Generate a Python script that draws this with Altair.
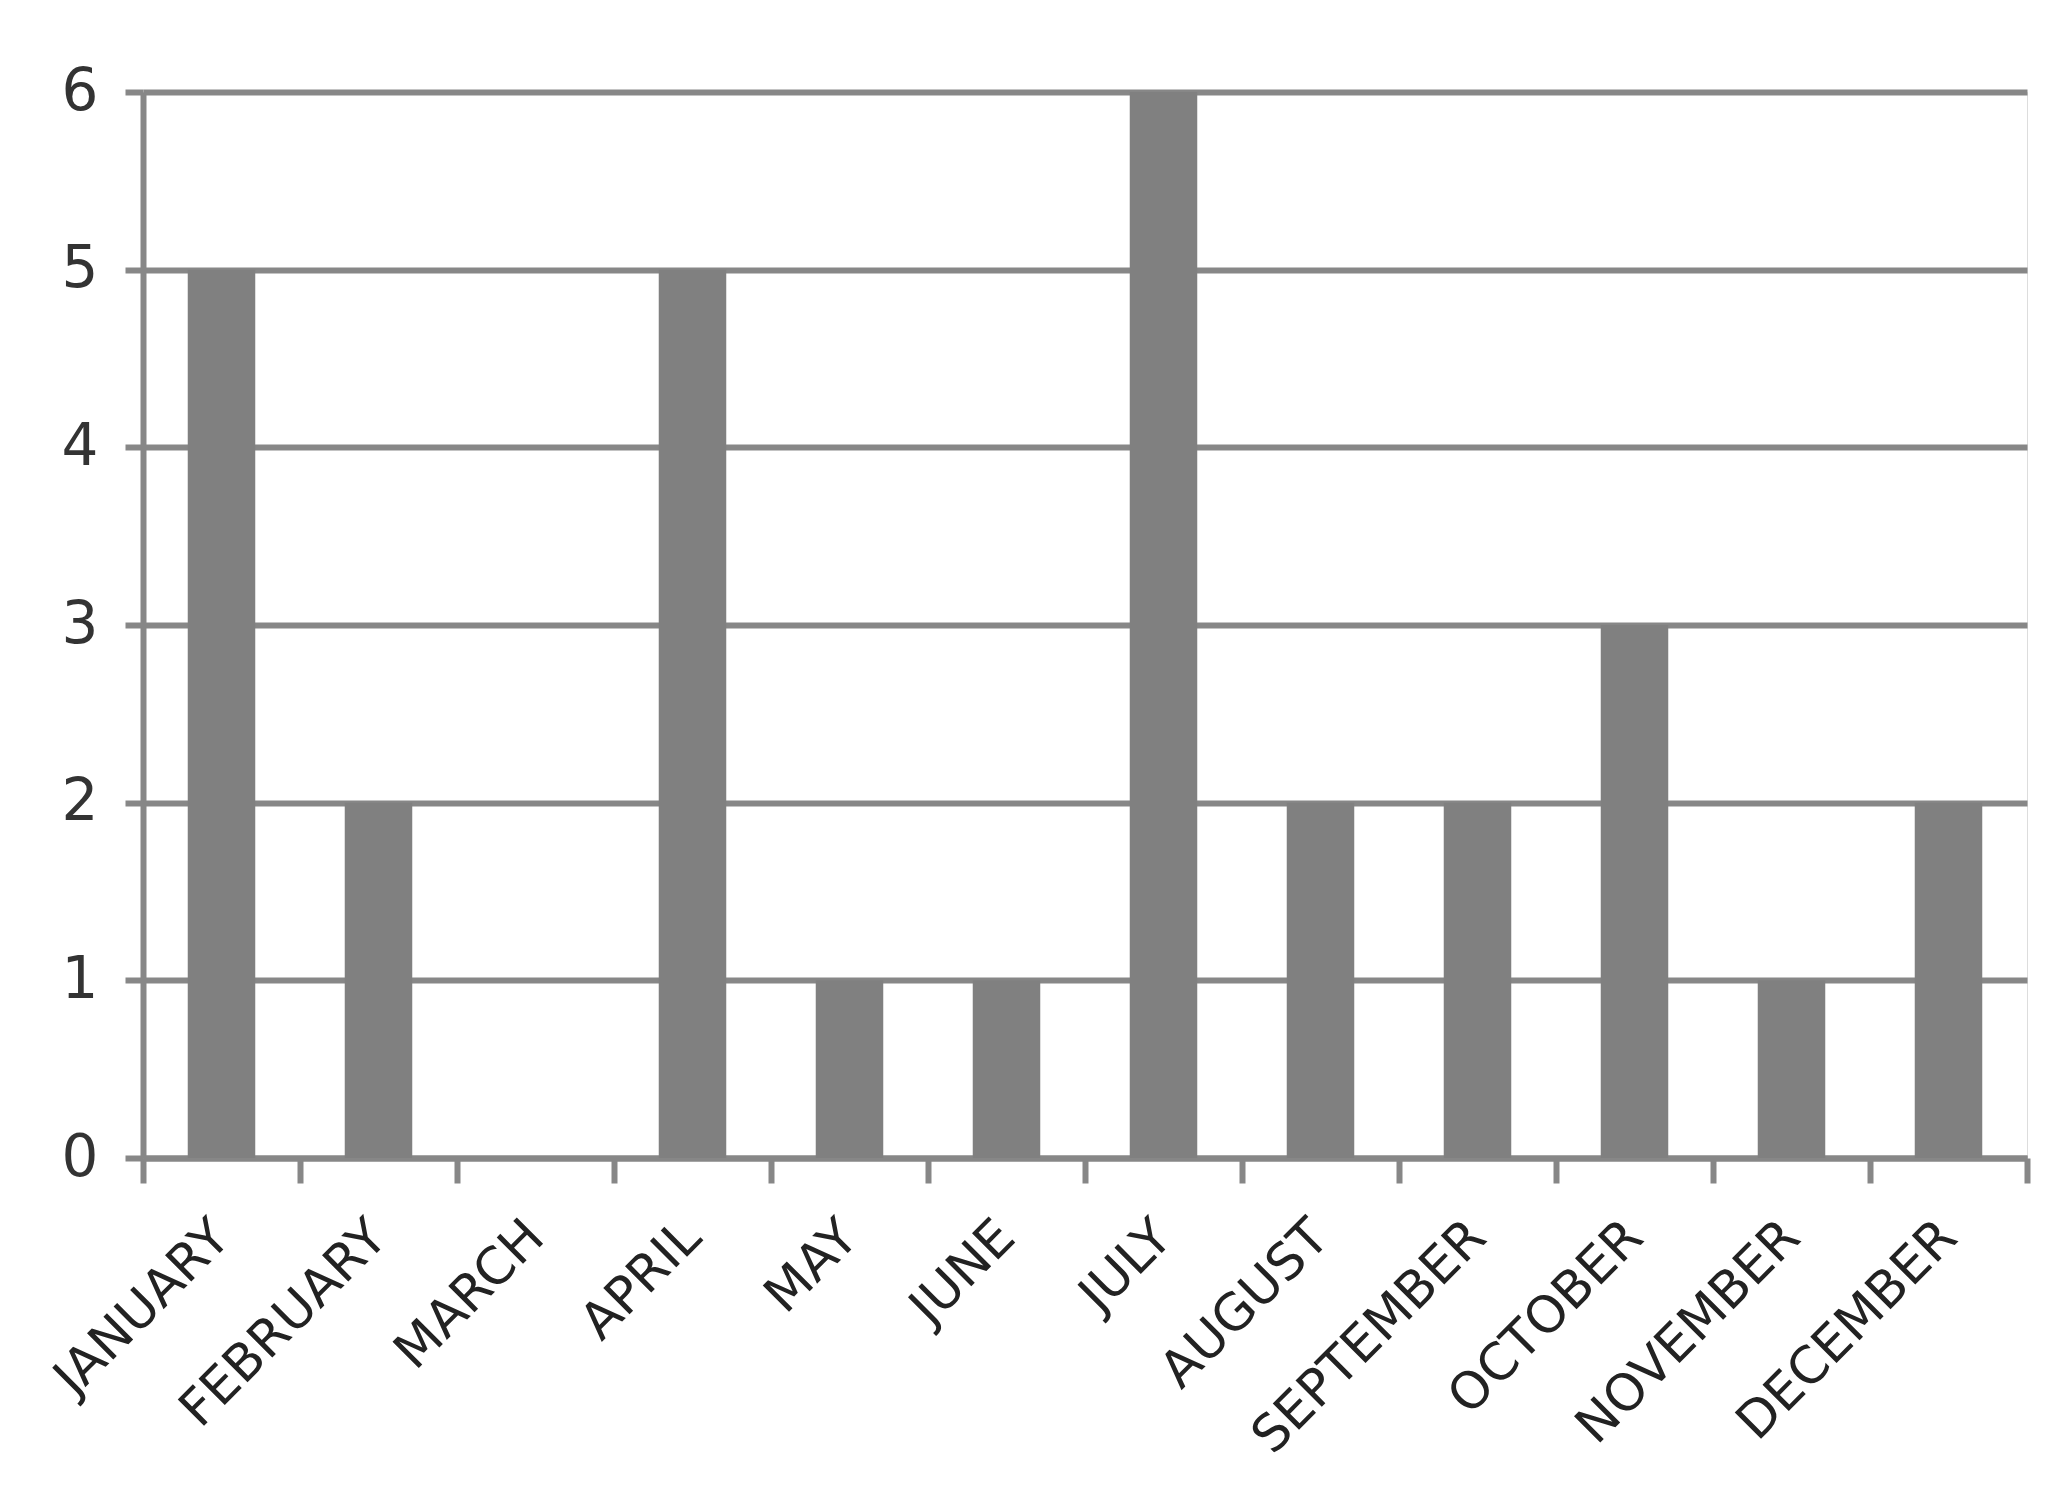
import altair as alt
import pandas as pd

months = ["JANUARY", "FEBRUARY", "MARCH", "APRIL", "MAY", "JUNE", "JULY",
          "AUGUST", "SEPTEMBER", "OCTOBER", "NOVEMBER", "DECEMBER"]
counts = [5, 2, 0, 5, 1, 1, 6, 2, 2, 3, 1, 2]
y_ticks = [0, 1, 2, 3, 4, 5, 6]

df = pd.DataFrame({"month": months, "count": counts})

axis_gray = "#878787"

chart = alt.Chart(df).mark_bar(color="#808080", width=alt.RelativeBandSize(0.43)).encode(
    x=alt.X("month:N", sort=months, title=None,
            scale=alt.Scale(paddingInner=0, paddingOuter=0),
            axis=alt.Axis(labelAngle=-45, labelAlign="right", labelBaseline="middle",
                          labelFont="DejaVu Sans", labelFontSize=51, labelColor="#222222",
                          labelLimit=0, labelPadding=46, tickSize=25, tickWidth=6,
                          tickColor=axis_gray, tickBand="extent", domainColor=axis_gray,
                          domainWidth=6, grid=False)),
    y=alt.Y("count:Q", title=None,
            scale=alt.Scale(domain=[0, 6], nice=False),
            axis=alt.Axis(values=y_ticks, labelFont="DejaVu Sans", labelFontSize=58,
                          labelColor="#333333", labelPadding=27, tickSize=18, tickWidth=6,
                          tickColor=axis_gray, domainColor=axis_gray, domainWidth=6,
                          grid=True, gridColor=axis_gray, gridWidth=6, gridOpacity=1)),
).properties(
    width=1884, height=1066,
    autosize=alt.AutoSizeParams(type="none"),
    padding={"left": 135, "top": 84, "right": 25, "bottom": 320},
).configure_view(stroke=None).configure(background="white")

chart.save("out.html", embed_options={"renderer": "svg", "actions": False})
